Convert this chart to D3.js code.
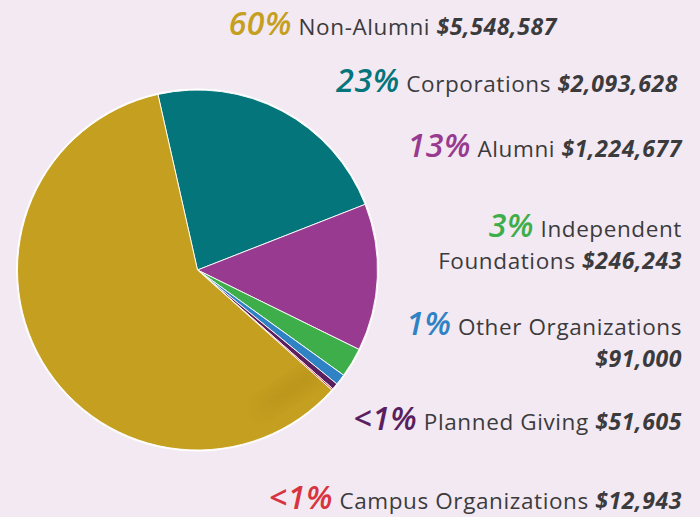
<!DOCTYPE html>
<html>
<head>
<meta charset="utf-8">
<script src="https://cdn.jsdelivr.net/npm/d3@7"></script>
<style>
  html, body { margin: 0; padding: 0; background: #f3e9f2; }
  svg { display: block; }
</style>
</head>
<body>
<svg id="chart" width="700" height="517"></svg>
<script>
// data, clockwise from the top-left edge of the teal slice
const categories = ['Corporations', 'Alumni', 'Independent Foundations', 'Other Organizations', 'Planned Giving', 'Campus Organizations', 'Non-Alumni'];
const amounts = [2093628, 1224677, 246243, 91000, 51605, 12943, 5548587];
const percentLabels = ['23%', '13%', '3%', '1%', '<1%', '<1%', '60%'];
const sliceColors = ['#04757a', '#983a8f', '#3dae4a', '#2f82c3', '#5a1f5e', '#d8343f', '#c59f1f'];

const width = 700;
const height = 517;
const cx = 197.5;
const cy = 270;
const radius = 180;

const svg = d3.select('#chart');

const pie = d3.pie()
  .sort(null)
  .startAngle(-12.7 * Math.PI / 180)
  .endAngle(-12.7 * Math.PI / 180 + 2 * Math.PI)
  .value((d) => d);

const arcs = pie(amounts);
const arc = d3.arc().innerRadius(0).outerRadius(radius);

const defs = svg.append('defs');
defs.append('filter')
  .attr('id', 'soft')
  .attr('x', '-50%').attr('y', '-50%').attr('width', '200%').attr('height', '200%')
  .append('feGaussianBlur')
  .attr('stdDeviation', 8);
defs.append('clipPath')
  .attr('id', 'goldClip')
  .append('path')
  .attr('d', arc(arcs[6]));

const g = svg.append('g').attr('transform', `translate(${cx},${cy})`);

// outer white rim
g.append('circle')
  .attr('r', radius + 1.5)
  .attr('fill', '#fff');

g.selectAll('path.slice')
  .data(arcs)
  .join('path')
  .attr('class', 'slice')
  .attr('d', arc)
  .attr('fill', (d, i) => sliceColors[i])
  .attr('stroke', '#fff')
  .attr('stroke-width', 0.9)
  .attr('stroke-linejoin', 'round');

// faint crease shadow on the gold slice
g.append('g')
  .attr('clip-path', 'url(#goldClip)')
  .append('ellipse')
  .attr('cx', 95)
  .attr('cy', 118)
  .attr('rx', 42)
  .attr('ry', 8)
  .attr('transform', 'rotate(-33 95 118)')
  .attr('fill', '#6a5000')
  .attr('opacity', 0.13)
  .attr('filter', 'url(#soft)');

// label layout: right edge, first baseline, where the line breaks
const labelLayout = [
  { x: 678, y: 92, split: 0 },
  { x: 682, y: 157, split: 0 },
  { x: 682, y: 237, split: 1 },
  { x: 682, y: 335, split: 2 },
  { x: 682, y: 430, split: 0 },
  { x: 682, y: 509, split: 0 },
  { x: 557, y: 35, split: 0 },
];
const lineGap = 31.5;
const fmt = d3.format('$,');
const family = '"Open Sans", "Noto Sans", sans-serif';
const ink = '#3b3b3d';

const labels = svg.append('g').attr('font-family', family).attr('letter-spacing', 0.6);

categories.forEach((name, i) => {
  const lay = labelLayout[i];
  const words = name.split(' ');
  const pctSeg = { text: percentLabels[i], kind: 'pct' };
  const amtSeg = { text: fmt(amounts[i]), kind: 'amt' };
  let lines;
  if (lay.split === 1) {
    lines = [[pctSeg, { text: ' ' + words[0], kind: 'name' }],
      [{ text: words.slice(1).join(' ') + ' ', kind: 'name' }, amtSeg]];
  } else if (lay.split === 2) {
    lines = [[pctSeg, { text: ' ' + name, kind: 'name' }], [amtSeg]];
  } else {
    lines = [[pctSeg, { text: ' ' + name + ' ', kind: 'name' }, amtSeg]];
  }
  lines.forEach((segs, li) => {
    const t = labels.append('text')
      .attr('x', lay.x)
      .attr('y', lay.y + li * lineGap)
      .attr('text-anchor', 'end')
      .attr('xml:space', 'preserve');
    segs.forEach((s) => {
      const ts = t.append('tspan').text(s.text);
      if (s.kind === 'pct') {
        ts.attr('font-size', 32).attr('font-weight', 600).attr('font-style', 'italic').attr('fill', sliceColors[i]);
      } else if (s.kind === 'amt') {
        ts.attr('font-size', 23).attr('font-weight', 700).attr('font-style', 'italic').attr('fill', ink);
      } else {
        ts.attr('font-size', 22.5).attr('fill', ink);
      }
    });
  });
});
</script>
</body>
</html>
